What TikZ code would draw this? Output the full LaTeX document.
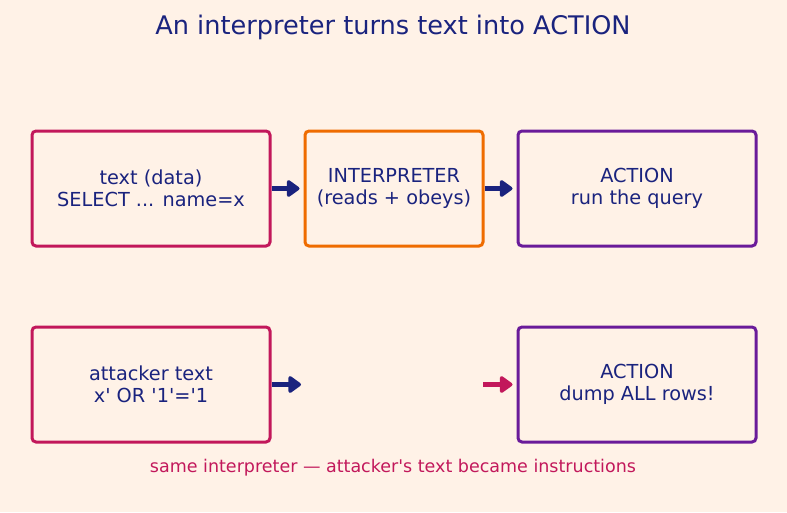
\documentclass[tikz,border=0pt]{standalone}
\usepackage{fontspec}
\setmainfont{DejaVu Sans}[Ligatures=TeXOff]
\usetikzlibrary{arrows.meta}
\definecolor{bgcream}{HTML}{FFF2E7}
\definecolor{inknavy}{HTML}{1A237E}
\definecolor{crim}{HTML}{C2185B}
\definecolor{orng}{HTML}{EF6C00}
\definecolor{purp}{HTML}{6A1B9A}

\begin{document}
\begin{tikzpicture}[x=1pt,y=-1pt,
	box/.style={draw, line width=3pt, rounded corners=4pt, align=center,
		text=inknavy, font=\fontsize{19.3}{22.5}\selectfont, inner sep=0pt},
	wide/.style={box, minimum width=238pt, minimum height=115pt},
	flow/.style={line width=4.5pt, -{Triangle[length=14pt,width=19pt,round]}, inknavy}]
			\fill[bgcream](0,0) rectangle (787,512);
			\useasboundingbox (0,0) rectangle (787,512);
			\node[text=inknavy, font=\fontsize{25.6}{30}\selectfont] (title) at (393,27.5) {An interpreter turns text into ACTION};
			\node[wide, crim] (data) at (151,188.5) {\textcolor{inknavy}{text (data)}\\\textcolor{inknavy}{SELECT ... name=x}};
			\node[box, orng, minimum width=178pt, minimum height=115pt] (interp) at (394,188.5) {\textcolor{inknavy}{INTERPRETER}\\\textcolor{inknavy}{(reads + obeys)}};
			\node[wide, purp] (action) at (637,188.5) {\textcolor{inknavy}{ACTION}\\\textcolor{inknavy}{run the query}};
			\node[wide, crim] (attack) at (151,384.5) {\textcolor{inknavy}{attacker text}\\\textcolor{inknavy}{x' OR '1'='1}};
			\node[wide, purp] (dump) at (637,384.5) {\textcolor{inknavy}{ACTION}\\\textcolor{inknavy}{dump ALL rows!}};
			\coordinate (gapin) at (301,384.5);
			\coordinate (gapout) at (483,384.5);
			\draw[flow, shorten >=4pt] (data) -- (interp);
			\draw[flow, shorten >=4pt] (interp) -- (action);
			\draw[flow] (attack) -- (gapin);
			\draw[flow, crim, shorten >=4pt] (gapout) -- (dump);
			\node[text=crim, font=\fontsize{17.5}{20}\selectfont] (note) at (393,468) {same interpreter — attacker's text became instructions};
		\end{tikzpicture}
\end{document}
